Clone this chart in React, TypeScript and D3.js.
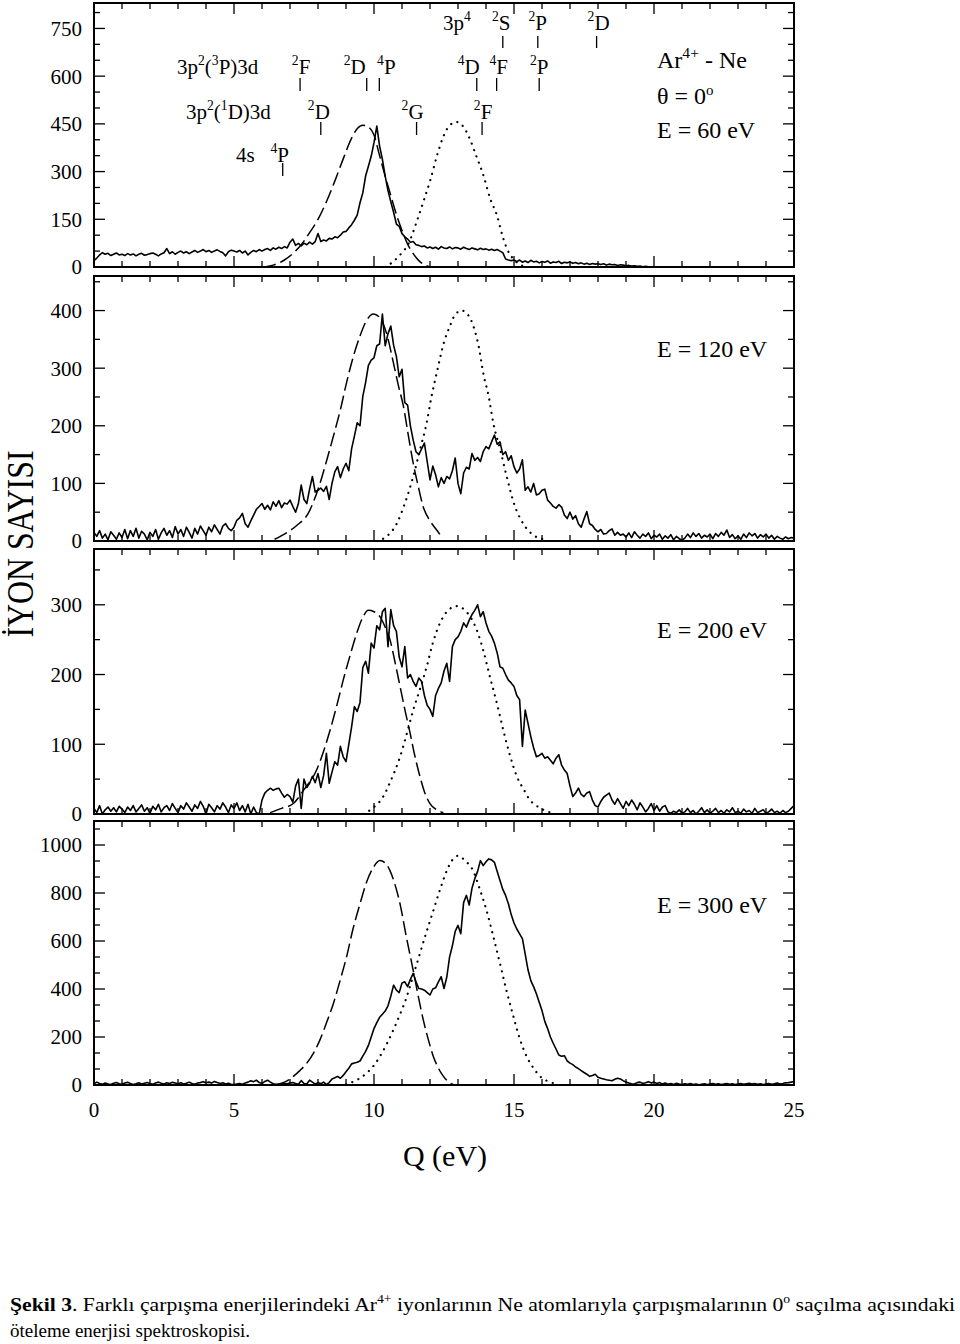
import React from "react";
import * as d3 from "d3";

// ---------- DATA ----------
const Q_STEP = 0.1; // experimental spectra sampled every 0.1 eV starting at Q = 0
const xMajorTicks = [0, 5, 10, 15, 20, 25];

// E = 60 eV experimental (Q 0.0 .. 20.0)
const exp60 = [
  20, 28, 38, 45, 40, 43, 36, 40, 44, 38, 40,
  36, 42, 38, 41, 35, 40, 43, 37, 39, 42,
  44, 40, 35, 41, 45, 58, 42, 48, 40, 46,
  50, 44, 48, 42, 47, 52, 46, 50, 55, 48,
  52, 46, 50, 54, 49, 45, 35, 48, 53, 50,
  47, 52, 44, 50, 38, 46, 52, 48, 55, 50,
  55, 58, 52, 60, 56, 62, 58, 64, 60, 78,
  88, 68, 74, 66, 75, 70, 78, 72, 80, 105,
  80, 85, 82, 90, 88, 95, 92, 100, 110, 112,
  123, 133, 147, 163, 202, 233, 286, 317, 348, 391,
  443, 380, 338, 286, 240, 205, 172, 135, 128, 105,
  95, 88, 78, 80, 70, 68, 64, 66, 60, 63,
  58, 62, 56, 64, 60, 58, 63, 57, 61, 60,
  56, 62, 58, 55, 60, 57, 54, 59, 55, 57,
  53, 56, 52, 55, 50, 45, 25, 22, 20, 22,
  17, 22, 15, 19, 14, 21, 16, 18, 13, 17,
  15, 19, 12, 16, 14, 18, 11, 15, 13, 16,
  12, 14, 10, 13, 9, 12, 8, 11, 9, 10,
  8, 10, 6, 9, 7, 8, 5, 7, 6, 4,
  5, 3, 4, 2, 3, 1, 2, 1, 0, 0,
];

// E = 120 eV experimental (Q 0.0 .. 25.0)
const exp120 = [
  15, 8, 18, 5, 12, 2, 16, 10, 3, 14, 6,
  20, 4, 18, 8, 22, 5, 17, 12, 2, 15,
  8, 20, 3, 14, 22, 10, 18, 6, 25, 12,
  20, 8, 24, 15, 5, 22, 12, 26, 18, 10,
  24, 16, 28, 20, 12, 26, 30, 22, 18, 24,
  36, 40, 48, 30, 24, 35, 45, 55, 60, 65,
  55, 62, 54, 68, 60, 70, 58, 66, 64, 71,
  60, 50, 65, 97, 72, 65, 90, 112, 85, 88,
  92, 86, 95, 72, 100, 120, 129, 110, 125, 135,
  122, 160, 182, 205, 200, 251, 275, 305, 314, 318,
  339, 342, 394, 339, 360, 373, 340, 320, 285, 298,
  240, 236, 200, 175, 155, 150, 160, 170, 138, 106,
  130, 115, 94, 110, 100, 112, 108, 122, 144, 100,
  82, 118, 128, 125, 152, 140, 145, 138, 155, 164,
  160, 172, 184, 168, 172, 150, 155, 140, 148, 129,
  118, 125, 141, 88, 94, 85, 100, 80, 82, 88,
  90, 71, 66, 60, 57, 63, 59, 45, 39, 50,
  38, 44, 30, 24, 38, 51, 30, 27, 20, 16,
  20, 12, 13, 18, 21, 10, 15, 10, 12, 7,
  14, 6, 16, 10, 5, 12, 8, 14, 4, 10,
  7, 12, 3, 9, 5, 11, 2, 8, 4, 1,
  5, 12, 6, 14, 8, 13, 5, 10, 7, 12,
  4, 13, 8, 15, 10, 19, 6, 11, 4, 9,
  3, 12, 6, 14, 9, 13, 5, 11, 7, 12,
  5, 10, 3, 8, 5, 3, 7, 4, 6, 5,
];

// E = 200 eV experimental (Q 0.0 .. 25.0)
const exp200 = [
  8, 2, 12, 0, 6, 10, 4, 9, 3, 11, 7,
  2, 10, 5, 12, 3, 8, 13, 4, 9, 1,
  11, 6, 14, 3, 9, 12, 5, 15, 8, 2,
  12, 7, 16, 10, 4, 13, 8, 18, 11, 0,
  14, 9, 3, 12, 7, 16, 10, 2, 13, 8,
  16, 5, 12, 3, 14, 0, 10, 2, 0, 20,
  30, 34, 37, 34, 36, 37, 30, 24, 28, 25,
  17, 40, 50, 8, 50, 38, 44, 54, 45, 58,
  38, 55, 87, 44, 60, 75, 70, 97, 82, 75,
  100, 125, 154, 147, 160, 210, 219, 202, 245, 238,
  270, 264, 290, 295, 240, 293, 270, 262, 225, 211,
  240, 195, 200, 190, 183, 195, 190, 170, 156, 150,
  140, 170, 180, 188, 205, 216, 190, 240, 250, 254,
  262, 274, 268, 278, 286, 292, 300, 283, 290, 274,
  262, 255, 245, 231, 211, 209, 200, 192, 188, 183,
  170, 164, 97, 149, 130, 111, 95, 82, 84, 87,
  80, 82, 77, 72, 80, 85, 70, 63, 58, 40,
  25, 30, 37, 28, 25, 30, 32, 20, 12, 10,
  18, 24, 27, 30, 20, 14, 22, 15, 8, 18,
  12, 20, 14, 6, 16, 10, 3, 8, 15, 5,
  12, 4, 10, 12, 3, 1, 4, 2, 6, 1,
  3, 8, 2, 5, 0, 4, 9, 2, 6, 1,
  4, 8, 2, 5, 1, 6, 3, 9, 2, 4,
  1, 7, 3, 5, 1, 8, 2, 4, 6, 1,
  3, 7, 2, 4, 1, 5, 2, 4, 8, 12,
];

// E = 300 eV experimental (Q 0.0 .. 25.0)
const exp300 = [
  5, 12, 6, 3, 8, 4, 2, 7, 10, 5, 3,
  8, 11, 6, 2, 5, 9, 4, 7, 10, 6,
  3, 8, 12, 7, 4, 9, 6, 11, 8, 5,
  9, 4, 7, 12, 6, 3, 8, 10, 14, 9,
  12, 8, 15, 10, 6, 9, 4, 7, 3, 2,
  4, 6, 3, 8, 12, 18, 14, 20, 10, 6,
  15, 20, 12, 5, 3, 2, 4, 6, 5, 8,
  10, 6, 3, 18, 6, 4, 20, 12, 4, 10,
  5, 12, 2, 10, 25, 30, 36, 28, 40, 55,
  70, 88, 92, 95, 100, 120, 140, 165, 200, 235,
  260, 282, 295, 308, 330, 370, 416, 395, 385, 425,
  430, 410, 440, 465, 430, 402, 400, 395, 385, 375,
  400, 405, 430, 451, 402, 450, 534, 580, 640, 665,
  630, 760, 790, 750, 820, 860, 890, 935, 914, 930,
  942, 938, 928, 890, 852, 815, 790, 755, 710, 675,
  650, 630, 610, 545, 480, 435, 410, 380, 345, 310,
  265, 235, 200, 174, 150, 125, 120, 122, 100, 91,
  85, 75, 68, 60, 52, 45, 36, 40, 45, 32,
  28, 25, 22, 20, 18, 24, 28, 25, 18, 12,
  8, 5, 4, 10, 12, 6, 9, 14, 8, 12,
  6, 10, 4, 8, 3, 6, 2, 7, 4, 2,
  5, 3, 6, 2, 4, 1, 3, 5, 2, 4,
  6, 3, 5, 2, 4, 6, 3, 5, 2, 4,
  6, 3, 5, 7, 4, 6, 3, 5, 2, 4,
  6, 3, 5, 8, 4, 6, 9, 10, 12, 15,
];

// calculated reaction windows, [Q, counts]
const win60Dashed: [number, number][] = [
  [6.0, 0], [6.4, 6], [6.8, 22], [7.1, 42], [7.4, 70], [7.7, 108], [8.0, 150], [8.3, 205],
  [8.6, 270], [8.9, 340], [9.2, 405], [9.4, 435], [9.6, 446], [9.8, 440], [10.0, 415],
  [10.2, 350], [10.4, 285], [10.6, 225], [10.8, 165], [11.0, 115], [11.2, 72], [11.4, 42],
  [11.6, 20], [11.8, 7], [12.0, 0],
];
const win60Dotted: [number, number][] = [
  [10.4, 0], [10.7, 18], [11.0, 45], [11.2, 68], [11.55, 149], [11.8, 215], [12.0, 270],
  [12.25, 350], [12.48, 411], [12.7, 445], [12.95, 456], [13.2, 440], [13.43, 401],
  [13.65, 350], [13.9, 290], [14.15, 215], [14.4, 160], [14.6, 95], [14.76, 55],
  [14.95, 28], [15.12, 13], [15.3, 4],
];
const win120Dashed: [number, number][] = [
  [6.45, 3], [6.8, 12], [7.24, 27], [7.65, 48], [8.07, 100], [8.3, 138], [8.55, 182],
  [8.8, 228], [9.02, 275], [9.25, 318], [9.5, 356], [9.75, 384], [9.98, 394], [10.2, 388],
  [10.45, 360], [10.69, 310], [10.87, 270], [11.05, 234], [11.22, 185], [11.4, 135],
  [11.58, 95], [11.76, 59], [12.0, 35], [12.24, 19], [12.4, 8],
];
const win120Dotted: [number, number][] = [
  [10.1, 0], [10.5, 10], [10.81, 30], [11.1, 65], [11.4, 112], [11.65, 160], [11.88, 205],
  [12.05, 250], [12.24, 292], [12.5, 345], [12.71, 373], [12.9, 393], [13.13, 400],
  [13.35, 393], [13.55, 373], [13.75, 335], [13.9, 292], [14.1, 250], [14.26, 205],
  [14.5, 160], [14.74, 112], [15.0, 65], [15.33, 30], [15.7, 10], [16.05, 3],
];
const win200Dashed: [number, number][] = [
  [6.29, 2], [6.7, 8], [7.12, 15], [7.5, 35], [7.95, 63], [8.2, 90], [8.43, 120], [8.7, 160],
  [8.9, 192], [9.15, 228], [9.38, 259], [9.6, 282], [9.8, 292], [10.0, 290], [10.21, 283],
  [10.4, 268], [10.57, 250], [10.75, 218], [10.93, 183], [11.1, 150], [11.29, 116],
  [11.45, 85], [11.64, 54], [11.8, 32], [12.0, 15], [12.2, 7], [12.48, 2],
];
const win200Dotted: [number, number][] = [
  [9.62, 0], [10.0, 10], [10.33, 25], [10.6, 48], [10.93, 82], [11.15, 112], [11.4, 149],
  [11.65, 180], [11.88, 211], [12.1, 245], [12.36, 274], [12.6, 290], [12.95, 298],
  [13.3, 290], [13.67, 264], [13.9, 235], [14.14, 197], [14.4, 157], [14.62, 120],
  [14.85, 85], [15.1, 54], [15.35, 35], [15.57, 20], [15.8, 12], [16.05, 6], [16.3, 2],
];
const win300Dashed: [number, number][] = [
  [6.5, 2], [6.8, 12], [7.12, 36], [7.35, 60], [7.6, 91], [7.85, 135], [8.07, 188],
  [8.3, 258], [8.55, 340], [8.8, 440], [9.02, 534], [9.25, 650], [9.5, 755], [9.75, 850],
  [9.98, 907], [10.21, 935], [10.4, 925], [10.57, 893], [10.75, 835], [10.93, 755],
  [11.15, 620], [11.4, 478], [11.58, 370], [11.76, 271], [11.95, 185], [12.12, 119],
  [12.3, 70], [12.48, 36], [12.65, 14], [12.83, 2],
];
const win300Dotted: [number, number][] = [
  [9.0, 2], [9.14, 8], [9.45, 25], [9.74, 50], [10.0, 82], [10.21, 119], [10.45, 170],
  [10.69, 229], [10.93, 295], [11.17, 368], [11.4, 455], [11.64, 548], [11.88, 640],
  [12.12, 727], [12.36, 815], [12.6, 893], [12.8, 938], [13.01, 955], [13.25, 935],
  [13.54, 893], [13.78, 815], [14.02, 727], [14.26, 620], [14.5, 506], [14.74, 390],
  [14.98, 285], [15.2, 195], [15.45, 119], [15.7, 70], [15.93, 36], [16.2, 16], [16.52, 5],
];

// y axis ticks per panel
const yMax = [830, 460, 380, 1100];
const yMajor = [
  [0, 150, 300, 450, 600, 750],
  [0, 100, 200, 300, 400],
  [0, 100, 200, 300],
  [0, 200, 400, 600, 800, 1000],
];
const yMinorStep = [50, 50, 50, 200 / 3];
const energyLabels = ["E = 60 eV", "E = 120 eV", "E = 200 eV", "E = 300 eV"];

// energy level markers (top panel): superscript, term, Q position (eV), row
const levelSup = ["2", "2", "2", "4", "4", "2", "2", "2", "4", "2", "2", "2", "4"];
const levelTerm = ["S", "P", "D", "D", "F", "P", "F", "D", "P", "D", "G", "F", "P"];
const levelQ = [14.6, 15.85, 17.95, 13.67, 14.38, 15.9, 7.36, 9.74, 10.19, 8.1, 11.52, 13.86, 6.74];
const levelRow = [0, 0, 0, 1, 1, 1, 1, 1, 1, 2, 2, 2, 3];

// ---------- LAYOUT ----------
const X0 = 94;
const X1 = 794;
const panelTop = [3, 276, 549, 821];
const panelBottom = [267, 541, 814, 1085];
const levelLabelDx = [-1.5, 0, 2, -8, 2, 0, 1, -12, 7, -2, -4, 1, -3];
const rowBaseline = [30, 74, 119, 162];
const rowTick = [[36, 48], [78, 91], [122, 135], [163, 176]];
const energyLabelY = [138, 357, 638, 913];

const FONT = "'Liberation Serif', 'Times New Roman', Times, serif";

function Sup({ base, sup, after, size }: { base?: string; sup: string; after?: string; size: number }) {
  const s = size * 0.65;
  return (
    <>
      {base ? <tspan>{base}</tspan> : null}
      <tspan fontSize={s} dy={-size * 0.42}>{sup}</tspan>
      <tspan dy={size * 0.42}>{after ?? ""}</tspan>
    </>
  );
}

export default function App() {
  const x = d3.scaleLinear().domain([0, 25]).range([X0, X1]);
  const xMinor = d3.range(0, 26, 1);

  const panels = [
    { exp: exp60, dashed: win60Dashed, dotted: win60Dotted },
    { exp: exp120, dashed: win120Dashed, dotted: win120Dotted },
    { exp: exp200, dashed: win200Dashed, dotted: win200Dotted },
    { exp: exp300, dashed: win300Dashed, dotted: win300Dotted },
  ];

  return (
    <svg
      width={960}
      height={1344}
      viewBox="0 0 960 1344"
      style={{ position: "absolute", left: 0, top: 0, background: "#fff" }}
      fontFamily={FONT}
    >
      <rect x={0} y={0} width={960} height={1344} fill="#fff" />
      {panels.map((p, pi) => {
        const y = d3.scaleLinear().domain([0, yMax[pi]]).range([panelBottom[pi], panelTop[pi]]);
        const lineExp = d3
          .line<number>()
          .x((_, i) => x(i * Q_STEP))
          .y((d) => y(d));
        const lineWin = d3
          .line<[number, number]>()
          .x((d) => x(d[0]))
          .y((d) => y(d[1]))
          .curve(d3.curveMonotoneX);
        const minors = d3.range(0, yMax[pi] + 0.001, yMinorStep[pi]);
        const top = panelTop[pi];
        const bot = panelBottom[pi];
        const clipId = `clip${pi}`;
        return (
          <g key={pi}>
            <defs>
              <clipPath id={clipId}>
                <rect x={X0} y={top} width={X1 - X0} height={bot - top} />
              </clipPath>
            </defs>
            {xMinor.map((q) => {
              const major = q % 5 === 0;
              const len = major ? 11 : 6;
              return (
                <g key={`xt${q}`} stroke="#000" strokeWidth={1.3}>
                  <line x1={x(q)} x2={x(q)} y1={bot} y2={bot - len} />
                  <line x1={x(q)} x2={x(q)} y1={top} y2={top + len} />
                </g>
              );
            })}
            {minors.map((v, k) => {
              const major = yMajor[pi].some((m) => Math.abs(m - v) < 0.01);
              const len = major ? 11 : 6;
              return (
                <g key={`yt${k}`} stroke="#000" strokeWidth={1.3}>
                  <line x1={X0} x2={X0 + len} y1={y(v)} y2={y(v)} />
                  <line x1={X1} x2={X1 - len} y1={y(v)} y2={y(v)} />
                </g>
              );
            })}
            {yMajor[pi].map((v) => (
              <text key={`yl${v}`} x={82} y={y(v)} dy="0.35em" textAnchor="end" fontSize={21}>
                {v}
              </text>
            ))}
            <g clipPath={`url(#${clipId})`} fill="none">
              <path d={lineWin(p.dashed) ?? ""} stroke="#000" strokeWidth={1.5} strokeDasharray="14 5" />
              <path
                d={lineWin(p.dotted) ?? ""}
                stroke="#000"
                strokeWidth={2.2}
                strokeDasharray="0.1 6.6"
                strokeLinecap="round"
              />
              <path d={lineExp(p.exp) ?? ""} stroke="#000" strokeWidth={1.6} strokeLinejoin="round" />
            </g>
            <rect x={X0} y={top} width={X1 - X0} height={bot - top} fill="none" stroke="#000" strokeWidth={2} />
            <text x={657} y={energyLabelY[pi]} fontSize={24}>
              {energyLabels[pi]}
            </text>
          </g>
        );
      })}

      {/* top panel annotations */}
      <text x={657} y={68} fontSize={24}>
        <Sup base="Ar" sup="4+" after=" - Ne" size={24} />
      </text>
      <text x={657} y={104} fontSize={24}>
        <tspan>θ = 0</tspan>
        <tspan fontSize={15} dy={-9}>o</tspan>
      </text>

      <text x={443} y={rowBaseline[0]} fontSize={21}>
        <Sup base="3p" sup="4" size={21} />
      </text>
      <text x={177} y={rowBaseline[1]} fontSize={21}>
        <Sup base="3p" sup="2" after="(" size={21} />
        <Sup sup="3" after="P)3d" size={21} />
      </text>
      <text x={186} y={rowBaseline[2]} fontSize={21}>
        <Sup base="3p" sup="2" after="(" size={21} />
        <Sup sup="1" after="D)3d" size={21} />
      </text>
      <text x={236} y={rowBaseline[3]} fontSize={21}>
        4s
      </text>
      {levelQ.map((q, i) => {
        const r = levelRow[i];
        return (
          <g key={`lv${i}`}>
            <line x1={x(q)} x2={x(q)} y1={rowTick[r][0]} y2={rowTick[r][1]} stroke="#000" strokeWidth={1.3} />
            <text x={x(q) + levelLabelDx[i]} y={rowBaseline[r]} fontSize={21} textAnchor="middle">
              <Sup sup={levelSup[i]} after={levelTerm[i]} size={21} />
            </text>
          </g>
        );
      })}

      {/* x tick labels */}
      {xMajorTicks.map((q) => (
        <text key={`xl${q}`} x={x(q)} y={1117} textAnchor="middle" fontSize={21}>
          {q}
        </text>
      ))}
      <text x={445} y={1166} textAnchor="middle" fontSize={30}>
        Q (eV)
      </text>
      <text
        transform="translate(33,544) rotate(-90)"
        textAnchor="middle"
        fontSize={38}
        textLength={187}
        lengthAdjust="spacingAndGlyphs"
      >
        İYON SAYISI
      </text>

      {/* caption */}
      <text x={10} y={1311} fontSize={19} textLength={945} lengthAdjust="spacingAndGlyphs">
        <tspan fontWeight="bold">Şekil 3</tspan>
        <tspan>. Farklı çarpışma enerjilerindeki Ar</tspan>
        <tspan fontSize={12} dy={-8}>4+</tspan>
        <tspan dy={8}> iyonlarının Ne atomlarıyla çarpışmalarının 0</tspan>
        <tspan fontSize={12} dy={-8}>o</tspan>
        <tspan dy={8}> saçılma açısındaki</tspan>
      </text>
      <text x={10} y={1337} fontSize={19}>
        öteleme enerjisi spektroskopisi.
      </text>
    </svg>
  );
}
